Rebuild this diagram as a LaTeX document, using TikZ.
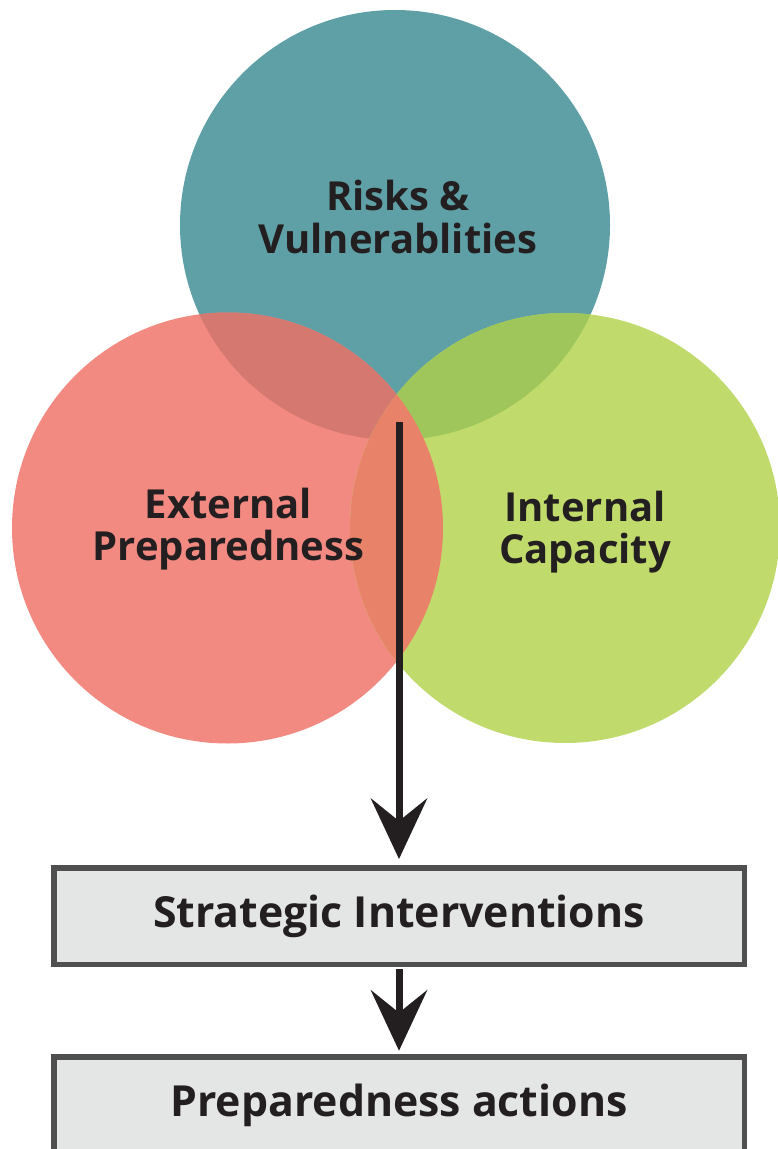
\documentclass[tikz,border=0pt]{standalone}
\usepackage{fontspec}
\setmainfont{Open Sans}
\usetikzlibrary{arrows.meta}
\definecolor{tealc}{HTML}{5FA0A7}
\definecolor{salc}{HTML}{F38A82}
\definecolor{greenc}{HTML}{C0DA6C}
\definecolor{tealsal}{HTML}{D47870}
\definecolor{tealgreen}{HTML}{9FC65A}
\definecolor{salgreen}{HTML}{E8836A}
\definecolor{ink}{HTML}{231F20}
\definecolor{boxfill}{HTML}{E4E6E5}
\definecolor{boxline}{HTML}{4F4F4F}
\begin{document}
\begin{tikzpicture}[x=0.5pt,y=-0.5pt,
  lbl/.style={font=\bfseries\fontsize{20}{21.3}\selectfont, text=ink, align=center},
  box/.style={draw=boxline, fill=boxfill, line width=2.75pt, minimum width=345.25pt,
    minimum height=48.25pt, inner sep=0pt, font=\bfseries\fontsize{21.4}{22}\selectfont, text=ink},
  flow/.style={draw=ink, line width=3.5pt,
    -{Stealth[length=30.5pt,width=28.5pt,inset=11.5pt,line width=0pt]}}]
\useasboundingbox (0,0) rectangle (777,1149);
% circles
\fill[tealc] (395,225) circle[radius=215];
\fill[salc] (227.5,528) circle[radius=215.5];
\fill[greenc] (565,528) circle[radius=215];
\begin{scope}
  \clip (395,225) circle[radius=215];
  \fill[tealsal] (227.5,528) circle[radius=215.5];
  \fill[tealgreen] (565,528) circle[radius=215];
\end{scope}
\begin{scope}
  \clip (227.5,528) circle[radius=215.5];
  \fill[salgreen] (565,528) circle[radius=215];
\end{scope}
% labels
\node[lbl] (risk) at (398,217) {Risks \&\\Vulnerablities};
\node[lbl] (ext) at (228.5,529) {External\\Preparedness};
\node[lbl] (int) at (585,532) {Internal\\Capacity};
% boxes
\node[box] (si) at (399,916) {\raisebox{-1.5pt}{Strategic Interventions}};
\node[box] (pa) at (399,1105) {\raisebox{-1pt}{Preparedness actions}};
% arrows
\coordinate (start) at (399,422);
\draw[flow, shorten >=3pt] (start) -- (si.north);
\draw[flow, shorten >=1.65pt, shorten <=1pt] (si.south) -- (pa.north);
\end{tikzpicture}
\end{document}
